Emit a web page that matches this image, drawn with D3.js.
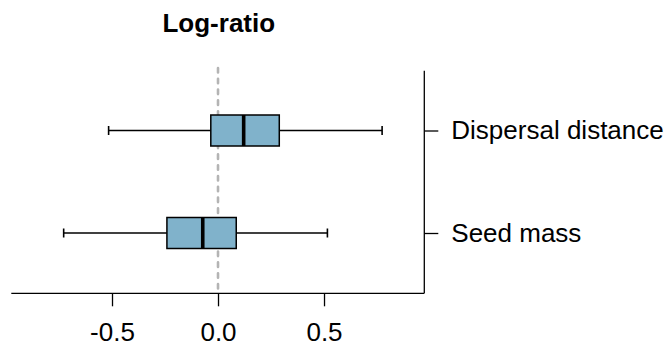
<!DOCTYPE html>
<html>
<head>
<meta charset="utf-8">
<script src="https://cdn.jsdelivr.net/npm/d3@7"></script>
<style>
  html, body { margin: 0; padding: 0; background: #fff; }
  text { font-family: "Liberation Sans", Arial, Helvetica, sans-serif; }
</style>
</head>
<body>
<svg id="chart" width="664" height="347"></svg>
<script>
// Data
const categories = ["Dispersal distance", "Seed mass"];
const whiskerLow  = [-0.516, -0.728];
const q1          = [-0.034, -0.241];
const median      = [0.121, -0.072];
const q3          = [0.289, 0.086];
const whiskerHigh = [0.774, 0.516];
const xTicks = [-0.5, 0.0, 0.5];
const title = "Log-ratio";

const svg = d3.select("#chart");
const fontSize = 26;

const x = d3.scaleLinear().domain([-0.975, 0.973]).range([11.3, 424.3]);
const y = d3.scalePoint().domain(categories).range([130.5, 233]);
const boxH = 31;
const capH = 9;
const yTop = 70.7, yBot = 293.3;

// reference line at 0
svg.append("line")
  .attr("x1", x(0)).attr("x2", x(0))
  .attr("y1", 68).attr("y2", yBot)
  .attr("stroke", "#b4b4b4").attr("stroke-width", 2.6)
  .attr("stroke-dasharray", "4.5,6.3").attr("stroke-linecap", "round");

// x axis
const xAxis = svg.append("g").attr("transform", `translate(0,${yBot})`)
  .call(d3.axisBottom(x).tickValues(xTicks).tickFormat(d3.format(".1f")).tickSize(13).tickPadding(16));
xAxis.select(".domain").attr("d", `M${x.range()[0]},0H${x.range()[1]}`).attr("stroke", "#000").attr("stroke-width", 1.3);
xAxis.selectAll(".tick line").attr("stroke", "#000").attr("stroke-width", 1.3);
xAxis.selectAll(".tick text").attr("font-size", fontSize).attr("fill", "#000")
  .attr("font-family", "Liberation Sans, Arial, sans-serif").text(d => d3.format(".1f")(d).replace("−", "-"));

// y axis (right)
const yAxis = svg.append("g").attr("transform", `translate(${x.range()[1]},0)`)
  .call(d3.axisRight(y).tickSize(14).tickPadding(13));
yAxis.select(".domain").attr("d", `M0,${yTop}V${yBot}`).attr("stroke", "#000").attr("stroke-width", 1.3);
yAxis.selectAll(".tick line").attr("stroke", "#000").attr("stroke-width", 1.3);
yAxis.selectAll(".tick text").attr("font-size", fontSize).attr("fill", "#000")
  .attr("font-family", "Liberation Sans, Arial, sans-serif");

// boxes
const data = categories.map((c, i) => ({c, lo: whiskerLow[i], q1: q1[i], med: median[i], q3: q3[i], hi: whiskerHigh[i]}));
const g = svg.append("g");
const b = g.selectAll("g.box").data(data).join("g").attr("class", "box");
b.append("line").attr("x1", d => x(d.lo)).attr("x2", d => x(d.q1))
  .attr("y1", d => y(d.c)).attr("y2", d => y(d.c)).attr("stroke", "#000").attr("stroke-width", 1.4);
b.append("line").attr("x1", d => x(d.q3)).attr("x2", d => x(d.hi))
  .attr("y1", d => y(d.c)).attr("y2", d => y(d.c)).attr("stroke", "#000").attr("stroke-width", 1.4);
b.append("line").attr("x1", d => x(d.lo)).attr("x2", d => x(d.lo))
  .attr("y1", d => y(d.c) - capH/2).attr("y2", d => y(d.c) + capH/2).attr("stroke", "#000").attr("stroke-width", 1.6);
b.append("line").attr("x1", d => x(d.hi)).attr("x2", d => x(d.hi))
  .attr("y1", d => y(d.c) - capH/2).attr("y2", d => y(d.c) + capH/2).attr("stroke", "#000").attr("stroke-width", 1.6);
b.append("rect").attr("x", d => x(d.q1)).attr("width", d => x(d.q3) - x(d.q1))
  .attr("y", d => y(d.c) - boxH/2).attr("height", boxH)
  .attr("fill", "#80b2cb").attr("stroke", "#000").attr("stroke-width", 1.5);
b.append("line").attr("x1", d => x(d.med)).attr("x2", d => x(d.med))
  .attr("y1", d => y(d.c) - boxH/2).attr("y2", d => y(d.c) + boxH/2).attr("stroke", "#000").attr("stroke-width", 3.6);

// title
svg.append("text").attr("x", (x.range()[0] + x.range()[1]) / 2 + 1).attr("y", 31.5)
  .attr("text-anchor", "middle").attr("font-weight", "bold").attr("font-size", fontSize)
  .attr("fill", "#000").text(title);
</script>
</body>
</html>
